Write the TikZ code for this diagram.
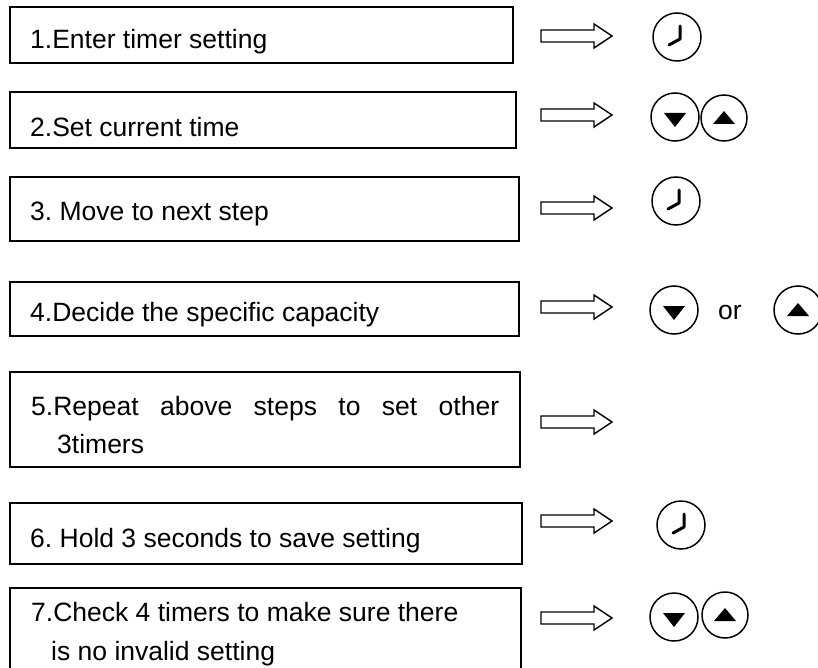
\documentclass[tikz,border=0pt]{standalone}
\usepackage{fontspec}
\setmainfont{Liberation Sans}
\frenchspacing
\begin{document}
\begin{tikzpicture}[x=1pt,y=-1pt,
  box/.style={draw=black,line width=1.7pt,rectangle,inner sep=0pt},
  txt/.style={anchor=base west,inner sep=0pt,font=\fontsize{26.5}{30}\selectfont},
  btn/.style={draw=black,line width=1.5pt,circle,minimum size=48pt,inner sep=0pt},
  harrow/.style={draw=black,line width=1.4pt,fill=white,line join=miter},
  hand/.style={line width=3pt,line cap=round,line join=round},
]
\useasboundingbox (0,0) rectangle (818,668);
% boxes
\node[box,minimum width=503pt,minimum height=56pt] (b1) at (261.5,35) {};
\node[box,minimum width=506pt,minimum height=56pt] (b2) at (263,120) {};
\node[box,minimum width=509pt,minimum height=64pt] (b3) at (264.5,209) {};
\node[box,minimum width=509pt,minimum height=54pt] (b4) at (264.5,309) {};
\node[box,minimum width=510pt,minimum height=95pt] (b5) at (265,419.5) {};
\node[box,minimum width=512pt,minimum height=61pt] (b6) at (266,533.5) {};
\node[box,minimum width=511pt,minimum height=110pt] (b7) at (265.5,643) {};
% texts
\node[txt] (t1) at (30,49) {1.Enter timer setting};
\node[txt] (t2) at (30,137) {2.Set current time};
\node[txt] (t3) at (30,221) {3. Move to next step};
\node[txt] (t4) at (30,321) {4.Decide the specific capacity};
\node[txt] (t5a) at (31,415) {\makebox[468pt][s]{5.Repeat above steps to set other}};
\node[txt] (t5b) at (57,453) {3timers};
\node[txt] (t6) at (30,547) {6. Hold 3 seconds to save setting};
\node[txt] (t7a) at (31,621) {7.Check 4 timers to make sure there};
\node[txt] (t7b) at (51,660) {is no invalid setting};
% hollow arrows
\foreach \n/\y in {1/36,2/115,3/208,4/307,5/422,6/521,7/618}{
  \coordinate (a\n) at (541,\y);
  \draw[harrow] (a\n) ++(0,-6) -- ++(53,0) -- ++(0,-6) -- ++(18,12) -- ++(-18,12) -- ++(0,-6) -- ++(-53,0) -- cycle;
}
% buttons
\node[btn] (c1) at (677,37) {};
\node[btn] (d2) at (675,117) {};
\node[btn,minimum size=46pt] (u2) at (724,118) {};
\node[btn] (c3) at (676,201) {};
\node[btn] (d4) at (674,310) {};
\node[txt,anchor=base] (or) at (730,319) {or};
\node[btn] (u4) at (798,310) {};
\node[btn] (c6) at (681,525) {};
\node[btn] (d7) at (674,617) {};
\node[btn,minimum size=46pt] (u7) at (725,615) {};
% clock hands
\foreach \c in {c1,c3,c6}{
  \draw[hand] (\c.center) ++(3,-11) -- ++(0,13) -- ++(-11,6);
}
% down triangles
\foreach \c in {d2,d4,d7}{
  \fill (\c.center) ++(-11,-4) -- ++(22,0) -- ++(-11,14) -- cycle;
}
% up triangles
\foreach \c in {u2,u4,u7}{
  \fill (\c.center) ++(-11,6) -- ++(22,0) -- ++(-11,-13) -- cycle;
}
\end{tikzpicture}
\end{document}
